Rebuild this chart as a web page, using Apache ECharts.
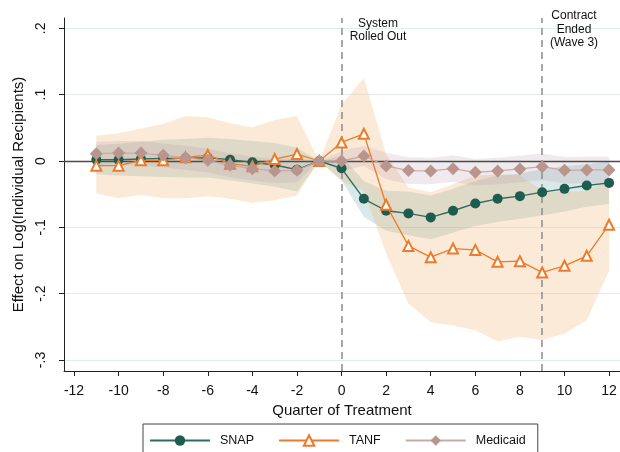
<!DOCTYPE html>
<html>
<head>
<meta charset="UTF-8">
<title>Effect on Log(Individual Recipients)</title>
<script src="https://cdn.jsdelivr.net/npm/echarts@6/dist/echarts.min.js"></script>
<style>
html, body { margin: 0; padding: 0; background: #fff; }
#main { width: 620px; height: 452px; }
</style>
</head>
<body>
<div id="main"></div>
<script>
// quarters relative to roll-out, -1 is the omitted reference quarter
var quarters = [-11, -10, -9, -8, -7, -6, -5, -4, -3, -2, -1, 0, 1, 2, 3, 4, 5, 6, 7, 8, 9, 10, 11, 12];

var snap = [0.002, 0.002, 0.003, 0.004, 0.004, 0.005, 0.002, -0.002, -0.006, -0.013, 0,
	-0.011, -0.057, -0.075, -0.079, -0.085, -0.075, -0.064, -0.057, -0.053, -0.047, -0.042, -0.037, -0.033];
var snapLo = [-0.020, -0.022, -0.023, -0.024, -0.025, -0.025, -0.029, -0.034, -0.039, -0.046, 0,
	-0.029, -0.084, -0.105, -0.112, -0.118, -0.108, -0.098, -0.092, -0.087, -0.082, -0.076, -0.069, -0.065];
var snapHi = [0.024, 0.026, 0.029, 0.032, 0.033, 0.035, 0.033, 0.030, 0.027, 0.020, 0,
	0.007, -0.030, -0.045, -0.046, -0.052, -0.042, -0.030, -0.022, -0.019, -0.012, -0.008, -0.005, -0.001];

var tanf = [-0.007, -0.007, 0.001, 0.001, 0.0055, 0.009, -0.004, -0.008, 0.003, 0.0105, 0,
	0.028, 0.041, -0.066, -0.128, -0.145, -0.132, -0.134, -0.152, -0.151, -0.168, -0.158, -0.143, -0.096];
var tanfLo = [-0.049, -0.056, -0.051, -0.056, -0.056, -0.053, -0.057, -0.063, -0.059, -0.052, 0,
	-0.030, -0.045, -0.140, -0.215, -0.243, -0.248, -0.255, -0.272, -0.265, -0.270, -0.260, -0.240, -0.165];
var tanfHi = [0.038, 0.042, 0.049, 0.056, 0.068, 0.066, 0.057, 0.051, 0.062, 0.068, 0,
	0.085, 0.125, 0.010, -0.040, -0.047, -0.035, -0.022, -0.020, -0.022, -0.045, -0.047, -0.045, -0.030];

var medicaid = [0.011, 0.012, 0.012, 0.0085, 0.005, 0.001, -0.0065, -0.0115, -0.015, -0.014, 0,
	0, 0.0075, -0.0075, -0.0145, -0.015, -0.0115, -0.017, -0.015, -0.012, -0.0085, -0.014, -0.0135, -0.0135];
var medLo = [-0.007, -0.006, -0.006, -0.0095, -0.013, -0.017, -0.0245, -0.0295, -0.033, -0.032, 0,
	-0.015, -0.0075, -0.0275, -0.0345, -0.035, -0.0315, -0.037, -0.035, -0.032, -0.0285, -0.034, -0.0335, -0.0335];
var medHi = [0.029, 0.030, 0.030, 0.0265, 0.023, 0.019, 0.0115, 0.0065, 0.003, 0.004, 0,
	0.015, 0.0225, 0.0125, 0.0055, 0.005, 0.0085, 0.003, 0.005, 0.008, 0.0115, 0.006, 0.0065, 0.0065];

var xTicks = [-12, -10, -8, -6, -4, -2, 0, 2, 4, 6, 8, 10, 12];
var yTicks = [-0.3, -0.2, -0.1, 0, 0.1, 0.2];
var eventLines = [0, 9];

var FONT = '"Liberation Sans", Arial, Helvetica, sans-serif';

function pairs(xs, ys) {
	var out = [];
	for (var i = 0; i < xs.length; i++) out.push([xs[i], ys[i]]);
	return out;
}

// confidence band drawn as one polygon: upper edge forward, lower edge back
function band(name, lo, hi, fill, z) {
	return {
		type: 'custom',
		name: name,
		z: z,
		silent: true,
		data: [[quarters[0], lo[0]]],
		renderItem: function(params, api) {
			var pts = [];
			for (var i = 0; i < quarters.length; i++) pts.push(api.coord([quarters[i], hi[i]]));
			for (var j = quarters.length - 1; j >= 0; j--) pts.push(api.coord([quarters[j], lo[j]]));
			return {
				type: 'polygon',
				shape: { points: pts },
				style: { fill: fill }
			};
		}
	};
}

function stataNum(v) {
	if (Math.abs(v) < 1e-9) return '0';
	var s = Math.abs(v).toFixed(1).replace(/^0/, '');
	return (v < 0 ? '-' : '') + s;
}

function note(text, cx, top, lh) {
	return {
		type: 'text', x: cx, y: top, z: 10, silent: true,
		style: {
			text: text, fill: '#111', font: '12px ' + FONT, lineHeight: lh,
			align: 'center', verticalAlign: 'top',
			textAlign: 'center', textVerticalAlign: 'top'
		}
	};
}

var chart = echarts.init(document.getElementById('main'));

var option = {
	animation: false,
	backgroundColor: '#fff',
	textStyle: { fontFamily: FONT },
	grid: { left: 64, right: 0, top: 18, bottom: 81 },
	xAxis: {
		type: 'value',
		min: -12.45,
		max: 12.49,
		name: 'Quarter of Treatment',
		nameLocation: 'middle',
		nameGap: 30,
		nameTextStyle: { fontSize: 15, color: '#111', fontFamily: FONT },
		axisLine: { show: true, onZero: false, lineStyle: { color: '#222', width: 1 } },
		axisTick: { show: true, length: 5, customValues: xTicks, lineStyle: { color: '#222' } },
		axisLabel: { customValues: xTicks, fontSize: 14, color: '#111', margin: 13, fontFamily: FONT },
		splitLine: { show: false }
	},
	yAxis: {
		type: 'value',
		min: -0.3166,
		max: 0.2156,
		name: 'Effect on Log(Individual Recipients)',
		nameLocation: 'middle',
		nameGap: 37,
		nameRotate: 90,
		nameTextStyle: { fontSize: 15, color: '#111', fontFamily: FONT },
		axisLine: { show: true, onZero: false, lineStyle: { color: '#222', width: 1 } },
		axisTick: { show: true, length: 5, customValues: yTicks, lineStyle: { color: '#222' } },
		axisLabel: {
			customValues: yTicks,
			rotate: 90,
			fontSize: 14,
			color: '#111',
			margin: 16,
			fontFamily: FONT,
			formatter: stataNum
		},
		splitLine: { show: false }
	},
	legend: {
		data: ['SNAP', 'TANF', 'Medicaid'],
		left: 143,
		top: 424,
		orient: 'horizontal',
		itemWidth: 60,
		itemHeight: 13,
		itemGap: 24,
		padding: [10, 12, 20, 6],
		borderColor: '#444',
		borderWidth: 1,
		textStyle: { fontSize: 12.5, color: '#111', fontFamily: FONT, padding: [0, 0, 0, 5] }
	},
	graphic: [
		note('System\nRolled Out', 378, 17, 13),
		note('Contract\nEnded\n(Wave 3)', 574, 9, 13.5)
	],
	series: [
		{
			type: 'line', name: 'gridlines', data: [], silent: true, z: 0,
			markLine: {
				silent: true, symbol: 'none', z: 0, animation: false,
				label: { show: false },
				lineStyle: { color: '#e2ecec', width: 1, type: 'solid' },
				data: yTicks.map(function(v) { return { yAxis: v }; })
			}
		},
		band('snapBand', snapLo, snapHi, 'rgba(80,150,150,0.22)', 1),
		band('tanfBand', tanfLo, tanfHi, 'rgba(245,170,100,0.25)', 1),
		band('medBand', medLo, medHi, 'rgba(170,140,160,0.18)', 1),
		{
			type: 'line', name: 'reflines', data: [], silent: true, z: 2,
			markLine: {
				silent: true, symbol: 'none', z: 2, animation: false,
				label: { show: false },
				data: [{ yAxis: 0, lineStyle: { color: '#4a4a4a', width: 1.3, type: 'solid' } }].concat(
					eventLines.map(function(v) {
						return { xAxis: v, lineStyle: { color: '#8c8c8c', width: 1.5, type: [7, 5] } };
					}))
			}
		},
		{
			type: 'line', name: 'SNAP', z: 3,
			data: pairs(quarters, snap),
			symbol: 'circle', symbolSize: 10, showAllSymbol: true,
			lineStyle: { color: '#2d6c5e', width: 1.4 },
			itemStyle: { color: '#1d5c4f' }
		},
		{
			type: 'line', name: 'TANF', z: 4,
			data: pairs(quarters, tanf),
			symbol: 'emptyTriangle', symbolSize: 10, showAllSymbol: true,
			lineStyle: { color: '#ee7b2c', width: 1.3 },
			itemStyle: { color: '#ee7b2c', borderWidth: 1.3 }
		},
		{
			type: 'line', name: 'Medicaid', z: 5,
			data: pairs(quarters, medicaid),
			symbol: 'diamond', symbolSize: 13, showAllSymbol: true,
			lineStyle: { color: '#c7aba6', width: 1.3 },
			itemStyle: { color: '#b9958e' }
		}
	]
};

chart.setOption(option);
</script>
</body>
</html>
